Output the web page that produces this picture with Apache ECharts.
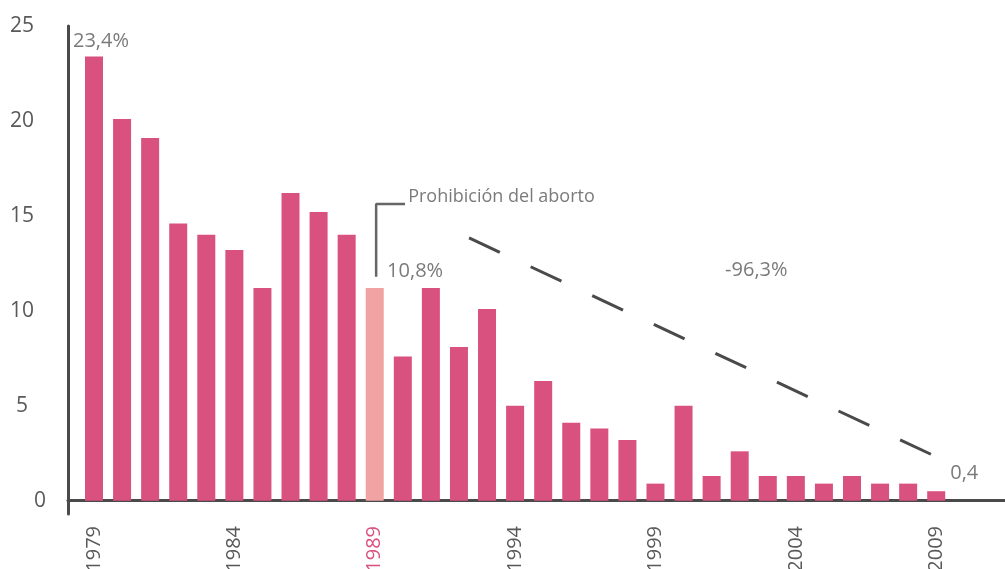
<!DOCTYPE html>
<html>
<head>
<meta charset="utf-8">
<script src="https://cdn.jsdelivr.net/npm/echarts@6/dist/echarts.min.js"></script>
<style>
html,body{margin:0;padding:0;background:#fff;}
#chart{width:1005px;height:569px;}
</style>
</head>
<body>
<div id="chart"></div>
<script>
// ---- data ----
var years = [1979,1980,1981,1982,1983,1984,1985,1986,1987,1988,1989,1990,1991,1992,1993,1994,1995,1996,1997,1998,1999,2000,2001,2002,2003,2004,2005,2006,2007,2008,2009];
var values = [23.4,20.1,19.1,14.6,14.0,13.2,11.2,16.2,15.2,14.0,11.2,7.6,11.2,8.1,10.1,5.0,6.3,4.1,3.8,3.2,0.9,5.0,1.3,2.6,1.3,1.3,0.9,1.3,0.9,0.9,0.5];
var highlightYear = 1989;
var xTickLabels = [1979,1984,1989,1994,1999,2004,2009];
var yTickLabels = [0,5,10,15,20,25];
// annotation texts: [text, x (year), y (value), font size]
var annoTexts = [
  ['23,4%', 1978.25, 24.2, 20],
  ['Prohibición del aborto', 1990.19, 16.0, 18],
  ['10,8%', 1989.44, 12.1, 20],
  ['-96,3%', 2001.48, 12.16, 20],
  ['0,4', 2009.5, 1.42, 20]
];
var trendLine = [[1992.36, 13.84], [2008.92, 2.37]];
var bracketLine = [[1989.05, 11.8], [1989.05, 15.63], [1990.08, 15.63]];

var barColor = '#d9517e';
var highlightColor = '#f0a3a2';
var textColor = '#595959';
var axisColor = '#4a4a4a';
var font = '"Open Sans", "Noto Sans", sans-serif';

var chart = echarts.init(document.getElementById('chart'), null, {renderer:'canvas'});
var option = {
  animation: false,
  backgroundColor: '#fff',
  grid: {left: 68, right: 0, top: 26, bottom: 55, containLabel: false, outerBoundsMode: 'none'},
  xAxis: {
    type: 'value',
    min: 1978.074,
    max: 2011.45,
    splitLine: {show: false},
    axisTick: {show: false},
    axisLine: {show: true, onZero: true, lineStyle: {color: axisColor, width: 3}},
    axisLabel: {
      customValues: xTickLabels,
      rotate: 90,
      margin: 12,
      fontSize: 20,
      fontFamily: font,
      color: textColor,
      hideOverlap: false,
      formatter: function (v) {
        return v === highlightYear ? '{h|' + v + '}' : '{n|' + v + '}';
      },
      rich: {
        h: {color: barColor, fontSize: 20, fontFamily: font},
        n: {color: textColor, fontSize: 20, fontFamily: font}
      }
    }
  },
  yAxis: {
    type: 'value',
    min: -0.7,
    max: 25,
    splitLine: {show: false},
    axisTick: {show: false},
    axisLine: {show: true, lineStyle: {color: axisColor, width: 3}},
    axisLabel: {
      customValues: yTickLabels,
      margin: 46,
      align: 'center',
      fontSize: 21,
      fontFamily: font,
      color: textColor,
      formatter: function (v) {
        return v === 0 ? '{z|0}' : '{n|' + v + '}';
      },
      rich: {
        z: {padding: [0, 0, 0, 36], fontSize: 21, fontFamily: font, color: textColor},
        n: {fontSize: 21, fontFamily: font, color: textColor}
      }
    }
  },
  series: [
    {
      type: 'bar',
      barWidth: 18,
      data: years.map(function (y, i) {
        return {
          value: [y, values[i]],
          itemStyle: {color: y === highlightYear ? highlightColor : barColor}
        };
      })
    },
    {
      type: 'line',
      data: trendLine,
      symbol: 'none',
      lineStyle: {color: axisColor, width: 3, type: [34, 34]},
      z: 5
    },
    {
      type: 'line',
      data: bracketLine,
      symbol: 'none',
      lineStyle: {color: '#666', width: 2.5},
      z: 5
    },
    {
      type: 'scatter',
      symbolSize: 0,
      data: annoTexts.map(function (a) {
        return {name: a[0], value: [a[1], a[2]], label: {fontSize: a[3]}};
      }),
      label: {
        show: true,
        position: 'right',
        distance: 0,
        formatter: '{b}',
        fontSize: 20,
        fontFamily: font,
        color: textColor
      },
      z: 6
    }
  ]
};
chart.setOption(option);
</script>
</body>
</html>
